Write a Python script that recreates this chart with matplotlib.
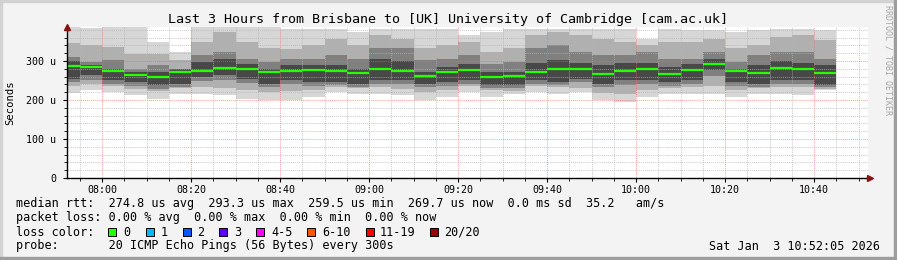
import matplotlib.pyplot as plt
import matplotlib.dates as mdates
import matplotlib.ticker as mticker
from matplotlib.patches import Rectangle
import numpy as np

W, H = 897, 260
MONO = 'DejaVu Sans Mono'

# 5 minute columns, each value covers the 5 minutes before its time stamp
t_end = np.arange(np.datetime64('2026-01-03T07:55'), np.datetime64('2026-01-03T10:50'),
                  np.timedelta64(5, 'm'))
t_start = t_end - np.timedelta64(5, 'm')

# median rtt in microseconds
median = [288, 285, 275, 265, 260, 272, 274, 283, 280, 272,
          275, 277, 274, 269, 280, 274, 261, 272, 278, 259.5,
          262, 272, 280, 280, 267, 274, 280, 267, 277, 293,
          274, 269, 283, 280, 269.7]

# smoke band edges (us), outer to inner
smoke_top = [386, 385, 386, 386, 349, 323, 386, 386, 386, 386,
             383, 383, 383, 374, 383, 383, 383, 383, 366, 374,
             383, 383, 383, 383, 383, 383, 357, 383, 379, 379,
             374, 379, 383, 383, 379]
smoke_bot = [219, 226, 220, 212, 203, 216, 216, 212, 203, 200,
             200, 208, 220, 216, 216, 212, 200, 208, 220, 208,
             216, 220, 216, 220, 200, 195, 208, 216, 216, 216,
             208, 216, 216, 212, 225]
upper = [345, 341, 336, 319, 319, 302, 349, 374, 349, 332,
         330, 340, 357, 340, 366, 357, 332, 340, 349, 323,
         332, 366, 374, 366, 357, 349, 340, 349, 349, 357,
         332, 340, 362, 366, 354]
lower = [235, 240, 235, 228, 222, 230, 232, 230, 225, 220,
         222, 225, 232, 230, 232, 228, 220, 225, 235, 225,
         224, 235, 232, 230, 218, 215, 225, 230, 232, 235,
         225, 230, 232, 232, 229]
dark_top = [310, 297, 302, 280, 289, 280, 315, 323, 306, 297,
            305, 306, 315, 306, 332, 332, 302, 306, 315, 293,
            297, 332, 340, 323, 315, 315, 323, 306, 306, 323,
            297, 315, 323, 323, 306]
dark_bot = [245, 252, 242, 236, 228, 234, 248, 250, 244, 232,
            240, 236, 238, 234, 240, 240, 232, 236, 242, 230,
            230, 242, 238, 245, 232, 238, 240, 236, 240, 262,
            236, 234, 240, 240, 233]
core_top = [300, 290, 280, 272, 272, 280, 297, 306, 293, 280,
            289, 289, 289, 280, 306, 300, 272, 285, 293, 272,
            272, 295, 302, 295, 289, 295, 295, 285, 293, 306,
            280, 289, 300, 295, 289]
core_bot = [255, 264, 251, 246, 238, 242, 259, 263, 255, 242,
            252, 246, 246, 242, 250, 250, 242, 246, 250, 238,
            238, 250, 246, 255, 242, 250, 250, 246, 250, 276,
            246, 242, 250, 250, 238]

loss_labels = ['0', '1', '2', '3', '4-5', '6-10', '11-19', '20/20']
loss_colors = ['#26ff00', '#00b8ff', '#0059ff', '#5e00ff', '#ff00ff', '#ff5500', '#ff0000', '#a10000']


def fx(x):
    return x / W


def fy(y):
    return 1 - y / H


fig = plt.figure(figsize=(W / 100, H / 100), dpi=100, facecolor='#f3f3f3')
ax = fig.add_axes([fx(67), fy(178), (868 - 67) / W, (178 - 27) / H])
ax.set_facecolor('white')

t0 = np.datetime64('2026-01-03T07:52:05')
ax.set_xlim(t0, t0 + np.timedelta64(180, 'm'))
ax.set_ylim(0, 387)

bands = [(smoke_bot, smoke_top, '#d6d6d6'),
         (lower, upper, '#b0b0b0'),
         (dark_bot, dark_top, '#808080'),
         (core_bot, core_top, '#484848')]
for lo, hi, col in bands:
    lo = np.array(lo, float)
    hi = np.array(hi, float)
    ax.bar(t_start, hi - lo, bottom=lo, width=5 / 1440, align='edge',
           color=col, linewidth=0, zorder=1)

ax.hlines(median, t_start, t_end, color='#26ff00', linewidth=1.6, zorder=4)

ax.xaxis.set_major_locator(mdates.MinuteLocator(byminute=[0, 20, 40]))
ax.xaxis.set_minor_locator(mdates.MinuteLocator(byminute=range(0, 60, 5)))
ax.xaxis.set_major_formatter(mdates.DateFormatter('%H:%M'))
ax.yaxis.set_major_locator(mticker.MultipleLocator(100))
ax.yaxis.set_minor_locator(mticker.MultipleLocator(20))
ax.yaxis.set_major_formatter(mticker.FuncFormatter(lambda v, p: '0' if v == 0 else '%d u' % v))

ax.set_axisbelow(False)
ax.grid(which='minor', color='#b4b4b4', alpha=0.7, linestyle=(0, (1, 1)), linewidth=0.7)
ax.grid(which='major', color='#ff6060', alpha=0.6, linestyle=(0, (1, 1)), linewidth=0.7)

for s in ['top', 'right']:
    ax.spines[s].set_visible(False)
for s in ['left', 'bottom']:
    ax.spines[s].set_linewidth(1.0)
    ax.spines[s].set_zorder(6)
ax.tick_params(which='major', direction='out', length=3, width=0.8, labelsize=7.2, pad=2)
ax.tick_params(which='minor', direction='out', length=2, width=0.6)
for lab in ax.get_xticklabels() + ax.get_yticklabels():
    lab.set_fontfamily(MONO)
ax.tick_params(axis='y', pad=5)

# axis arrows
ax.plot([0], [1.0], marker='^', markersize=4.5, color='#8b1010', transform=ax.transAxes, clip_on=False, zorder=7)
ax.plot([1.003], [0], marker='>', markersize=4.5, color='#8b1010', transform=ax.transAxes, clip_on=False, zorder=7)

fig.text(fx(10), fy(103), 'Seconds', rotation=90, ha='center', va='center', fontsize=7.6, family=MONO)
fig.text(fx(448), fy(19), 'Last 3 Hours from Brisbane to [UK] University of Cambridge [cam.ac.uk]',
         ha='center', va='center', fontsize=9.6, family=MONO)
fig.text(fx(888), fy(5), 'RRDTOOL / TOBI OETIKER', rotation=270, ha='center', va='top',
         fontsize=6, family=MONO, color='#a8a8a8')

lfs = 8.5
fig.text(fx(16), fy(204), 'median rtt:  274.8 us avg  293.3 us max  259.5 us min  269.7 us now  0.0 ms sd  35.2   am/s',
         ha='left', va='center', fontsize=lfs, family=MONO)
fig.text(fx(16), fy(218), 'packet loss: 0.00 % avg  0.00 % max  0.00 % min  0.00 % now',
         ha='left', va='center', fontsize=lfs, family=MONO)
fig.text(fx(16), fy(232), 'loss color:', ha='left', va='center', fontsize=lfs, family=MONO)
box_x = [108, 146, 183, 219, 256, 307, 366, 430]
lab_x = [123, 161, 197, 234, 271, 322, 380, 444]
for bx, lx, lab, col in zip(box_x, lab_x, loss_labels, loss_colors):
    fig.patches.append(Rectangle((fx(bx), fy(236)), 8 / W, 8 / H, transform=fig.transFigure,
                                 facecolor=col, edgecolor='black', linewidth=0.7))
    fig.text(fx(lx), fy(232), lab, ha='left', va='center', fontsize=lfs, family=MONO)
fig.text(fx(16), fy(246), 'probe:       20 ICMP Echo Pings (56 Bytes) every 300s',
         ha='left', va='center', fontsize=lfs, family=MONO)
fig.text(fx(880), fy(246), 'Sat Jan  3 10:52:05 2026', ha='right', va='center', fontsize=lfs, family=MONO)

# image frame
fig.patches.append(Rectangle((0, fy(2)), 1, 2 / H, transform=fig.transFigure, color='#d2d2d2'))
fig.patches.append(Rectangle((0, 0), 2 / W, 1, transform=fig.transFigure, color='#d2d2d2'))
fig.patches.append(Rectangle((fx(894), 0), 3 / W, 1, transform=fig.transFigure, color='#9d9d9d'))
fig.patches.append(Rectangle((0, 0), 1, 3 / H, transform=fig.transFigure, color='#9d9d9d'))

fig.savefig('out.png', dpi=100, facecolor=fig.get_facecolor())
